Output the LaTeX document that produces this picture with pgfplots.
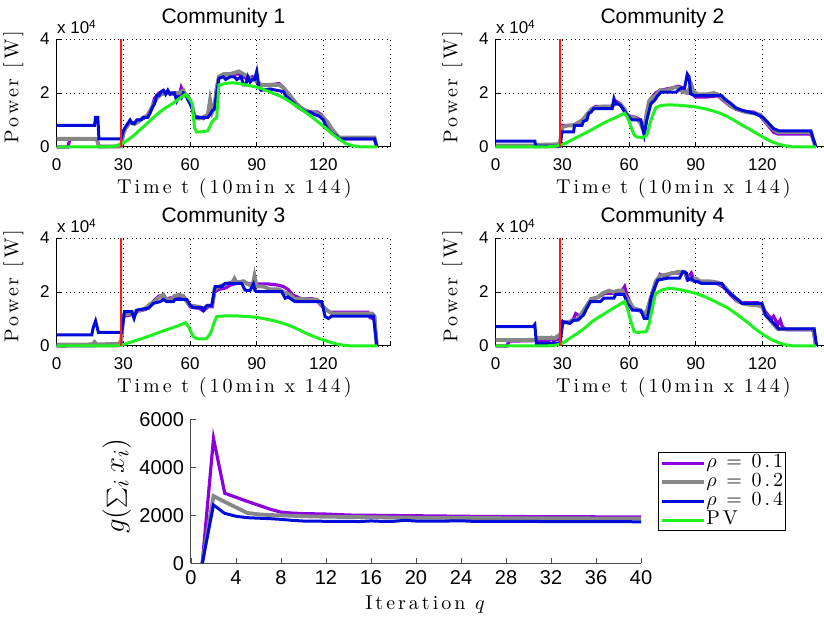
\documentclass[border=0pt]{standalone}
\usepackage{fontspec}
\usepackage{pgfplots}
\pgfplotsset{compat=1.18}
\newfontfamily\hv{Liberation Sans}
\newfontfamily\lms[LetterSpace=15]{Latin Modern Roman}
\newcommand\spc[1]{{\lms #1}}
\definecolor{pcol}{rgb}{0.55,0,0.87}
\definecolor{gcol}{rgb}{0.53,0.53,0.53}
\definecolor{bcol}{rgb}{0,0.05,0.85}
\definecolor{pvcol}{rgb}{0.12,0.94,0.12}
\definecolor{rcol}{rgb}{1,0.1,0.1}
\pgfplotsset{
  every axis title shift=0pt,
  sub/.style={scale only axis, width=166.7pt, height=54pt,
    xmin=0, xmax=150, ymin=0, ymax=4, clip=false,
    xtick={0,30,60,90,120,150}, xticklabels={0,30,60,90,120,},
    ytick={0,2,4}, yticklabels={0,2,4},
    axis x line*=bottom, axis y line*=left,
    axis line style={black, line width=0.5pt},
    tick align=inside, major tick length=2.5pt, tick style={black, line width=0.4pt},
    grid=major, grid style={black, line width=0.4pt, dash pattern=on 0.5pt off 1.7pt},
    tick label style={font=\fontsize{8.5}{9}\hv},
    xticklabel style={yshift=-2.5pt},
    title style={font=\fontsize{10.5}{11}\hv, at={(axis description cs:0.5,1)}, anchor=center, yshift=10.5pt},
    xlabel={\spc{Time t (10min x 144)}}, ylabel={\spc{Power [W]}},
    label style={font=\fontsize{10}{11}\selectfont},
    every axis x label/.style={at={(axis description cs:0.533,-0.38)}, anchor=center},
    every axis y label/.style={at={(axis description cs:-0.13,0.555)}, anchor=center, rotate=90},
  },
  p1/.style={pcol, line width=1.6pt},
  p2/.style={gcol, line width=1.9pt},
  p4/.style={bcol, line width=1.5pt},
  pv/.style={pvcol, line width=1.5pt},
  rl/.style={rcol, line width=0.8pt},
}
\newcommand\expo{\node[anchor=west, font=\fontsize{8.5}{9}\hv, inner sep=0pt] at ([yshift=6pt]rel axis cs:0,1) {x 10\textsuperscript{4}};}
\begin{document}
\begin{tikzpicture}
\path[use as bounding box] (0,0) rectangle (412pt,309.5pt);
% ---------------- Community 1
\begin{axis}[sub, at={(28.35pt,236pt)}, anchor=south west, title={Community 1}]
\addplot[p1] coordinates {(0,0)(5,0)(6,0.3)(18,0.3)(19,0.02)(28,0.02)(29,0.1)(30,0.5)(31,0.7)(33,0.9)(35,0.9)(37,1.0)(39,1.05)(41,1.2)(43,1.5)(44,1.8)(46,2.0)(48,2.05)(50,2.0)(53,1.95)(55,1.9)(56,2.2)(57,2.0)(59,1.9)(60,1.7)(61,1.5)(62,1.15)(64,1.1)(66,1.05)(68,1.15)(69,1.3)(70,1.35)(71,1.5)(72,2.2)(73,2.6)(75,2.65)(78,2.7)(80,2.7)(82,2.7)(84,2.6)(86,2.5)(88,2.6)(90,2.4)(92,2.3)(96,2.3)(100,2.35)(102,2.2)(104,2.0)(106,1.75)(108,1.55)(110,1.4)(112,1.35)(114,1.3)(117,1.3)(119,1.2)(121,1.0)(122,0.85)(124,0.6)(126,0.45)(127,0.3)(143,0.3)(144,0)};
\addplot[p2] coordinates {(0,0.3)(18,0.3)(19,0.02)(29,0.02)(30,0.5)(31,0.7)(33,0.9)(35,0.85)(37,0.95)(39,1.1)(41,1.15)(43,1.5)(45,1.8)(47,1.95)(49,2.0)(52,2.0)(55,2.0)(57,2.1)(58,1.9)(59,1.9)(60,1.7)(61,1.5)(62,1.1)(64,1.05)(66,1.1)(68,1.2)(69,1.75)(70,1.3)(71,1.5)(72,2.2)(73,2.6)(75,2.7)(78,2.7)(80,2.75)(82,2.8)(84,2.7)(86,2.6)(88,2.5)(90,2.45)(92,2.3)(96,2.3)(100,2.3)(102,2.2)(104,2.0)(106,1.8)(108,1.6)(110,1.45)(112,1.35)(114,1.3)(117,1.25)(119,1.15)(121,1.0)(122,0.9)(124,0.65)(126,0.45)(127,0.35)(143,0.35)(144,0)};
\addplot[p4] coordinates {(0,0.8)(17,0.8)(17.5,1.1)(18.5,1.1)(19,0.3)(29,0.3)(30,0.6)(31,0.75)(33,1.0)(34,0.87)(35,0.87)(36,1.0)(38,1.0)(39,1.1)(41,1.1)(42,1.25)(43,1.45)(44,1.6)(45,1.9)(46,1.9)(47,2.05)(48,2.1)(49,1.95)(50,2.1)(51,1.95)(52,2.0)(53,2.0)(54,1.7)(55,1.85)(56,1.8)(57,2.0)(58,1.95)(59,1.75)(60,1.6)(61,1.4)(62,1.1)(68,1.1)(69,1.2)(70,1.35)(71,1.4)(72,2.0)(73,2.55)(75,2.6)(76,2.5)(78,2.6)(80,2.6)(81,2.5)(83,2.6)(84,2.3)(85,2.3)(86,2.6)(87,2.4)(88,2.5)(89,2.5)(90,2.8)(91,2.2)(92,2.1)(96,2.15)(99,2.1)(102,2.05)(103,1.9)(105,1.75)(107,1.6)(108,1.5)(110,1.4)(112,1.3)(114,1.3)(116,1.2)(118,1.15)(120,1.0)(121,0.8)(122,0.65)(124,0.5)(126,0.4)(127,0.3)(143,0.3)(144,0)};
\addplot[pv] coordinates {(0,0)(20,0)(24,0.01)(27,0.05)(29,0.12)(31,0.2)(34,0.38)(37,0.6)(40,0.82)(43,1.05)(46,1.27)(49,1.45)(52,1.6)(55,1.78)(57,1.9)(58,1.95)(60,1.75)(61,1.6)(62,0.7)(63,0.55)(66,0.57)(68,0.6)(70,0.95)(72,1.1)(73,2.3)(76,2.35)(79,2.38)(82,2.35)(85,2.3)(88,2.25)(91,2.2)(94,2.1)(97,2.0)(100,1.9)(103,1.78)(106,1.62)(109,1.45)(112,1.28)(115,1.1)(118,0.9)(121,0.7)(124,0.48)(127,0.3)(130,0.13)(133,0.05)(136,0.01)(140,0)(144,0)};
\addplot[rl] coordinates {(29,0)(29,4)};
\expo
\end{axis}
% ---------------- Community 2
\begin{axis}[sub, at={(247.85pt,236pt)}, anchor=south west, title={Community 2}]
\addplot[p1] coordinates {(0,0.02)(28,0.02)(29,0.2)(30,0.8)(35,0.8)(37,0.85)(39,1.0)(41,1.15)(43,1.4)(45,1.5)(52,1.5)(54,1.7)(56,1.6)(57,1.45)(58,1.3)(60,1.15)(63,1.1)(65,1.0)(66,0.8)(67,0.7)(68,1.2)(70,1.8)(72,2.0)(74,2.1)(80,2.2)(82,2.25)(84,2.2)(86,2.0)(88,2.0)(90,1.85)(95,1.85)(100,1.9)(102,1.75)(105,1.55)(108,1.4)(112,1.3)(116,1.3)(119,1.15)(121,0.95)(123,0.75)(125,0.55)(127,0.48)(141,0.48)(142,0.45)(144,0)};
\addplot[p2] coordinates {(0,0.05)(17,0.05)(18,0.08)(28,0.1)(29,0.2)(30,0.75)(33,0.8)(35,0.8)(37,0.9)(39,1.0)(41,1.2)(43,1.4)(45,1.45)(48,1.5)(52,1.5)(54,1.6)(56,1.6)(57,1.5)(58,1.4)(59,1.2)(60,1.1)(62,1.1)(64,1.0)(65,0.9)(66,0.7)(67,0.8)(68,1.3)(69,1.7)(70,1.8)(72,1.9)(74,2.1)(77,2.1)(80,2.2)(82,2.2)(84,2.05)(86,2.0)(88,2.3)(89,2.05)(91,1.95)(95,1.95)(98,2.0)(100,1.95)(102,1.8)(104,1.65)(106,1.5)(109,1.4)(112,1.3)(116,1.25)(119,1.2)(121,1.0)(123,0.8)(125,0.65)(127,0.55)(141,0.55)(142,0.5)(144,0)};
\addplot[p4] coordinates {(0,0.22)(17.6,0.22)(18,0.03)(29,0.03)(29.7,0.56)(35,0.56)(35.5,0.8)(38.8,0.8)(39.5,0.95)(41,1.0)(41.8,1.24)(43,1.3)(44,1.42)(52.4,1.42)(53.2,1.79)(54,1.6)(55,1.6)(56.2,1.54)(57.7,1.36)(59.2,1.17)(60,1.1)(61.5,1.0)(65.3,1.0)(66.8,0.44)(68,1.0)(69.8,1.6)(71.4,1.72)(72.9,1.9)(74.4,2.03)(81.2,2.03)(82.7,2.15)(85,2.2)(86.2,2.7)(87,2.6)(87.7,1.97)(89.5,1.9)(101.7,1.9)(103,1.78)(106,1.6)(108,1.45)(110.8,1.36)(116.8,1.24)(120,1.11)(122.9,0.87)(125,0.68)(127.4,0.6)(141.8,0.6)(142.5,0.4)(144,0)};
\addplot[pv] coordinates {(0,0)(22,0)(26,0.02)(29,0.06)(31,0.12)(34,0.25)(37,0.38)(40,0.5)(43,0.63)(46,0.77)(49,0.9)(52,1.02)(55,1.13)(57,1.22)(58,1.25)(59.2,1.1)(60,0.95)(61,0.7)(62.3,0.45)(63.5,0.37)(66,0.35)(67.5,0.4)(68.3,0.5)(69.5,0.9)(70.6,1.17)(72,1.45)(74.4,1.54)(78,1.56)(82,1.55)(86,1.52)(90,1.48)(94,1.42)(98,1.33)(101,1.25)(104.7,1.11)(108,0.95)(111,0.8)(113.8,0.68)(117,0.52)(120.6,0.35)(124,0.2)(127.4,0.1)(130,0.05)(133,0.01)(136,0)(144,0)};
\addplot[rl] coordinates {(29,0)(29,4)};
\expo
\end{axis}
% ---------------- Community 3
\begin{axis}[sub, at={(28.35pt,136.5pt)}, anchor=south west, title={Community 3}]
\addplot[p1] coordinates {(0,0)(28,0.02)(29,0.1)(30,1.1)(33,1.15)(35,1.2)(37,1.3)(40,1.35)(42,1.5)(44,1.7)(46,1.85)(48,1.8)(50,1.75)(52,1.8)(55,1.8)(57,1.85)(58,1.7)(60,1.45)(62,1.42)(64,1.4)(66,1.3)(68,1.45)(70,1.45)(71,2.0)(73,2.1)(76,2.15)(78,2.25)(80,2.3)(84,2.35)(87,2.3)(90,2.3)(95,2.3)(100,2.25)(102,2.2)(104,2.1)(106,1.9)(110,1.75)(115,1.75)(117,1.7)(119,1.5)(121,1.35)(123,1.25)(125,1.25)(140,1.25)(141,1.05)(143,1.0)(144,0)};
\addplot[p2] coordinates {(0,0.05)(16,0.06)(17,0.15)(18,0.06)(28,0.08)(29,0.2)(30,1.15)(33,1.2)(35,1.25)(37,1.3)(40,1.4)(42,1.55)(44,1.65)(46,1.8)(48,1.9)(49,1.75)(51,1.7)(53,1.85)(55,1.9)(57,1.85)(58,1.7)(60,1.5)(62,1.48)(64,1.45)(66,1.4)(68,1.5)(70,1.5)(71,2.1)(73,2.2)(76,2.3)(79,2.35)(80,2.5)(81,2.35)(84,2.4)(86,2.3)(88,2.2)(89,2.6)(90,2.2)(93,2.2)(96,2.1)(100,2.1)(102,2.0)(105,1.9)(107,1.75)(110,1.75)(114,1.72)(117,1.72)(118,1.65)(120,1.45)(122,1.3)(124,1.2)(142,1.2)(143,1.1)(144,0)};
\addplot[p4] coordinates {(0,0.41)(15.75,0.41)(16.5,0.7)(17.5,0.93)(18.2,0.7)(18.75,0.5)(29.25,0.5)(30.5,1.27)(33.75,1.27)(34.8,1.02)(36,1.33)(41.3,1.4)(42.5,1.5)(43.5,1.58)(46.5,1.64)(48,1.72)(49.5,1.64)(52.5,1.64)(53.25,1.73)(58.5,1.73)(60,1.52)(61.5,1.42)(65.3,1.42)(66,1.33)(67.5,1.49)(69.75,1.5)(71.25,2.2)(74.25,2.2)(75.75,2.32)(83.25,2.32)(84.75,2.07)(87,2.05)(88.5,2.3)(89.25,2.05)(90.75,2.01)(101.25,2.01)(102.75,1.77)(104,1.82)(107.25,1.64)(119.25,1.64)(120.75,1.09)(122.25,1.02)(123.75,1.11)(142.5,1.11)(144,0)};
\addplot[pv] coordinates {(0,0)(24,0)(27,0.01)(29,0.03)(31,0.08)(34,0.16)(37,0.24)(40,0.32)(43,0.41)(46,0.5)(49,0.59)(52,0.67)(55,0.76)(57,0.83)(58,0.86)(59.25,0.72)(60.5,0.5)(61.5,0.35)(63,0.27)(66,0.26)(67.5,0.28)(69,0.45)(69.75,0.59)(71,0.9)(72,1.09)(75,1.11)(78,1.12)(82,1.11)(86,1.09)(90,1.06)(94,1.0)(98,0.93)(101,0.86)(104,0.78)(107,0.68)(110,0.56)(113,0.44)(117,0.31)(120,0.22)(123,0.14)(126.75,0.06)(130,0.02)(133,0)(144,0)};
\addplot[rl] coordinates {(29,0)(29,4)};
\expo
\end{axis}
% ---------------- Community 4
\begin{axis}[sub, at={(247.85pt,136.5pt)}, anchor=south west, title={Community 4}]
\addplot[p1] coordinates {(0,0)(5,0)(6,0.18)(18,0.2)(19,0.15)(24,0.2)(25,0.3)(26,0.2)(28,0.25)(29,0.35)(30,0.9)(33,0.85)(35,1.0)(36,1.2)(38,1.1)(40,1.3)(42,1.6)(44,1.75)(47,1.85)(49,1.95)(52,1.95)(54,1.95)(56,1.95)(58,2.2)(59,1.9)(60,1.7)(62,1.35)(65,1.3)(67,1.15)(69,1.2)(70,1.7)(72,2.3)(74,2.65)(76,2.55)(79,2.7)(82,2.7)(85,2.75)(86,2.5)(88,2.7)(89,2.45)(92,2.35)(96,2.35)(100,2.3)(103,2.15)(105,1.95)(108,1.7)(111,1.6)(118,1.6)(120,1.5)(121,1.3)(124,1.0)(125,1.1)(127,0.8)(128,0.95)(129,0.7)(131,0.6)(142,0.6)(143,0.55)(144,0)};
\addplot[p2] coordinates {(0,0.22)(17.5,0.22)(18.5,0.3)(27,0.3)(28,0.38)(29,0.4)(30,0.85)(33,0.9)(35,0.95)(37,1.0)(39,1.25)(41,1.5)(43,1.75)(46,1.8)(48,1.95)(51,2.05)(53,2.0)(55,2.05)(57,2.05)(59,1.75)(60,1.65)(62,1.4)(64,1.35)(66,1.25)(67,1.2)(68,1.3)(70,1.85)(72,2.4)(74,2.6)(77,2.65)(80,2.7)(82,2.75)(85,2.75)(86,2.6)(88,2.45)(90,2.5)(92,2.4)(96,2.4)(100,2.35)(103,2.2)(105,2.0)(107,1.85)(109,1.65)(112,1.55)(118,1.5)(120,1.45)(121,1.2)(123,1.0)(125,0.8)(127,0.62)(143,0.62)(144,0)};
\addplot[p4] coordinates {(0,0.72)(16.8,0.72)(17.6,0.8)(18.3,0.1)(28.2,0.1)(29,0.15)(30.2,0.9)(33.5,0.84)(35,0.96)(37,0.96)(39.5,1.15)(41,1.4)(42.6,1.64)(47,1.64)(48.6,1.77)(53.2,1.77)(54,1.91)(57.7,1.91)(59.2,1.58)(61.5,1.33)(65.3,1.33)(66.8,1.02)(68.3,1.02)(69.8,1.77)(71.4,2.14)(72.9,2.44)(77.4,2.51)(82.7,2.51)(84.2,2.75)(85.8,2.7)(86.5,2.44)(88,2.5)(89.5,2.38)(91,2.38)(92.5,2.32)(101.7,2.32)(103,2.14)(106.2,1.89)(109.2,1.7)(110.8,1.58)(119.8,1.58)(121.4,1.15)(124.4,0.9)(127.4,0.63)(143.3,0.63)(144.4,0)};
\addplot[pv] coordinates {(0,0)(22,0)(26,0.02)(29,0.06)(31,0.15)(34,0.32)(37,0.48)(40,0.66)(43,0.88)(46,1.05)(49,1.2)(52,1.35)(55,1.5)(57,1.6)(58,1.65)(59.2,1.4)(60.5,1.0)(62.3,0.53)(64,0.5)(66,0.52)(67.6,0.52)(69,0.8)(69.8,1.15)(71,1.6)(72,1.95)(75,2.08)(78,2.14)(82,2.1)(86,2.03)(90,1.95)(94,1.83)(98,1.68)(101,1.55)(104.7,1.4)(108,1.2)(111,1.02)(113.8,0.84)(117,0.62)(120.6,0.41)(124,0.24)(127.4,0.12)(130,0.05)(133,0.01)(136,0)(144,0)};
\addplot[rl] coordinates {(29,0)(29,4)};
\expo
\end{axis}
% ---------------- Convergence
\begin{axis}[scale only axis, width=225pt, height=72pt, at={(95.5pt,27.85pt)}, anchor=south west,
  xmin=0, xmax=40, ymin=0, ymax=6000, clip=false,
  xtick={0,4,...,40}, xticklabels={0,4,8,12,16,20,24,28,32,36,40},
  ytick={0,2000,4000,6000}, yticklabels={0,2000,4000,6000},
  axis x line*=bottom, axis y line*=left,
  axis line style={black!70, line width=0.5pt},
  tick align=inside, major tick length=2.5pt, tick style={black!70, line width=0.4pt},
  tick label style={font=\fontsize{10}{11}\hv},
  xlabel={\spc{Iteration $q$}}, ylabel={$g(\sum_i x_i)$},
  label style={font=\fontsize{10}{11}\selectfont},
  every axis x label/.style={at={(axis description cs:0.52,-0.285)}, anchor=center},
  every axis y label/.style={at={(axis description cs:-0.165,0.537)}, anchor=center, rotate=90, font=\fontsize{15}{16}\selectfont},
  legend style={at={(axis description cs:1.0378,0.773)}, anchor=north west, draw=black, line width=0.5pt, inner sep=0.6pt, row sep=0pt, font=\fontsize{10}{10}\selectfont, nodes={inner sep=0.4pt, text height=6.7pt, text depth=2.0pt}},
  legend cell align=left,
  legend image code/.code={\draw[#1] (0pt,0pt) -- (21pt,0pt);},
]
\addplot[p1] coordinates {(1,0)(2,5200)(3,2920)(4,2750)(5,2580)(6,2420)(7,2260)(8,2130)(9,2090)(10,2070)(11,2060)(12,2050)(13,2030)(14,2010)(15,2000)(16,2000)(18,1990)(20,1980)(22,1970)(24,1960)(26,1950)(28,1950)(30,1945)(32,1940)(34,1940)(36,1935)(38,1935)(40,1935)};
\addlegendentry{\spc{$\rho$ = 0.1}}
\addplot[p2] coordinates {(1,0)(2,2800)(3,2560)(4,2330)(5,2100)(6,2040)(7,2010)(8,2000)(9,1980)(10,1960)(12,1940)(14,1930)(16,1920)(18,1910)(20,1900)(24,1890)(28,1880)(32,1875)(36,1870)(40,1865)};
\addlegendentry{\spc{$\rho$ = 0.2}}
\addplot[p4] coordinates {(1,0)(2,2430)(3,2080)(4,1960)(5,1900)(6,1880)(7,1860)(8,1830)(9,1790)(10,1760)(12,1750)(14,1745)(15,1740)(16,1765)(17,1745)(18,1750)(19,1790)(20,1760)(22,1755)(24,1770)(25,1750)(28,1745)(32,1740)(36,1735)(40,1730)};
\addlegendentry{\spc{$\rho$ = 0.4}}
\addlegendimage{pv}
\addlegendentry{\spc{PV}}
\end{axis}
\end{tikzpicture}
\end{document}
